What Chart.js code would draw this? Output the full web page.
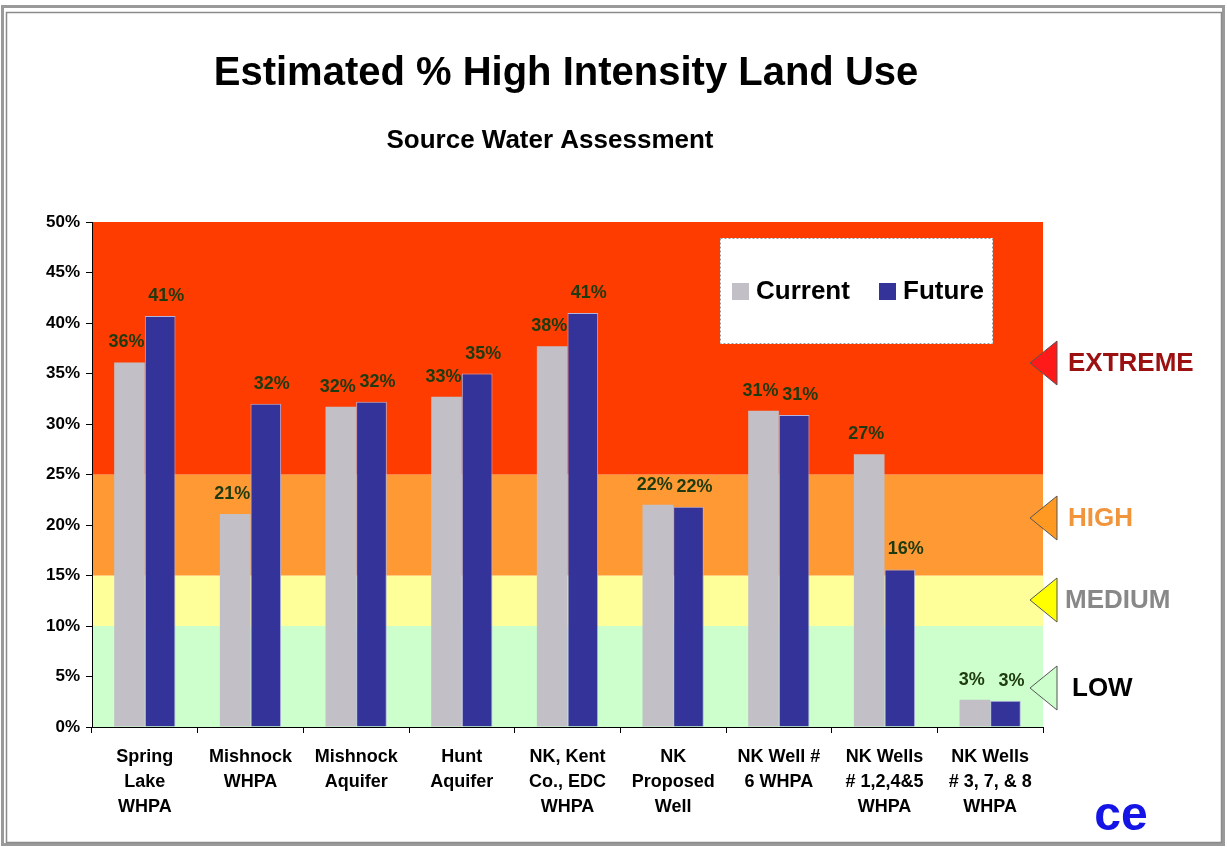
<!DOCTYPE html>
<html>
<head>
<meta charset="utf-8">
<script src="https://cdn.jsdelivr.net/npm/chart.js@4/dist/chart.umd.min.js"></script>
<style>
  html, body { margin: 0; padding: 0; background: #fff; }
  canvas { display: block; }
</style>
</head>
<body>
<canvas id="c" width="1227" height="848"></canvas>
<script>
// ---- Data ----
const categories = [
  ["Spring", "Lake", "WHPA"],
  ["Mishnock", "WHPA"],
  ["Mishnock", "Aquifer"],
  ["Hunt", "Aquifer"],
  ["NK, Kent", "Co., EDC", "WHPA"],
  ["NK", "Proposed", "Well"],
  ["NK Well #", "6 WHPA"],
  ["NK Wells", "# 1,2,4&5", "WHPA"],
  ["NK Wells", "# 3, 7, & 8", "WHPA"]
];
const currentValues = [36.1, 21.1, 31.7, 32.7, 37.7, 22.0, 31.3, 27.0, 2.7];
const futureValues  = [40.7, 32.0, 32.2, 35.0, 41.0, 21.8, 30.9, 15.6, 2.6];
const seriesNames = ["Current", "Future"];
const yTicks = [0, 5, 10, 15, 20, 25, 30, 35, 40, 45, 50];
const bandLimits = [0, 10, 15, 25, 50];
const bandNames = ["LOW", "MEDIUM", "HIGH", "EXTREME"];

// ---- Styles ----
const FONT = "'Liberation Sans', Arial, sans-serif";
const bandFill = ["#ccffcc", "#ffff99", "#ff9933", "#ff3c00"];
const markerFill = ["#ccffcc", "#ffff00", "#ff9922", "#ff1a1a"];
const markerText = ["#000000", "#888888", "#f0953c", "#9b1010"];
const markerY = [688, 600, 518, 363];   // pixel rows of zone markers
const markerTextX = [1072, 1065, 1068, 1068];
const labelShift = [-3, 6];             // horizontal nudge of value labels per series

const decorPlugin = {
  id: 'decor',
  beforeDraw(chart) {
    const ctx = chart.ctx;
    const ca = chart.chartArea;
    const y = chart.scales.y;
    ctx.save();
    ctx.fillStyle = '#fff';
    ctx.fillRect(0, 0, chart.width, chart.height);
    // frame
    ctx.strokeStyle = '#9a9a9a';
    ctx.lineWidth = 3;
    ctx.strokeRect(2.5, 6.5, 1221, 838);
    ctx.strokeStyle = '#8a8a8a';
    ctx.lineWidth = 1.5;
    ctx.strokeRect(6.5, 12.5, 1215, 830);
    // bands
    for (let i = 0; i < bandFill.length; i++) {
      const yTop = y.getPixelForValue(bandLimits[i + 1]);
      const yBot = y.getPixelForValue(bandLimits[i]);
      ctx.fillStyle = bandFill[i];
      ctx.fillRect(ca.left, yTop, ca.right - ca.left, yBot - yTop);
    }
    // titles
    ctx.fillStyle = '#000';
    ctx.textAlign = 'center';
    ctx.textBaseline = 'middle';
    ctx.font = "bold 40px " + FONT;
    ctx.fillText("Estimated % High Intensity Land Use", 566, 74);
    ctx.font = "bold 26px " + FONT;
    ctx.fillText("Source Water Assessment", 550, 141);
    ctx.restore();
  },
  afterDatasetsDraw(chart) {
    const ctx = chart.ctx;
    ctx.save();
    // data labels
    ctx.font = "bold 18px " + FONT;
    ctx.fillStyle = '#1e3b10';
    ctx.textAlign = 'center';
    ctx.textBaseline = 'alphabetic';
    chart.data.datasets.forEach((ds, di) => {
      chart.getDatasetMeta(di).data.forEach((bar, i) => {
        ctx.fillText(Math.round(ds.data[i]) + '%', bar.x + labelShift[di], bar.y - 15);
      });
    });
    // legend box
    ctx.fillStyle = '#fff';
    ctx.fillRect(720, 238, 273, 106);
    ctx.setLineDash([2, 2]);
    ctx.strokeStyle = '#999';
    ctx.lineWidth = 1;
    ctx.strokeRect(720.5, 238.5, 272, 105);
    ctx.setLineDash([]);
    ctx.font = "bold 26px " + FONT;
    ctx.textAlign = 'left';
    ctx.textBaseline = 'middle';
    const lx = [732, 879];
    chart.data.datasets.forEach((ds, di) => {
      ctx.fillStyle = ds.backgroundColor;
      ctx.fillRect(lx[di], 283, 17, 17);
      ctx.fillStyle = '#000';
      ctx.fillText(ds.label, lx[di] + 24, 292);
    });
    // zone markers
    const ca = chart.chartArea;
    ctx.font = "bold 26px " + FONT;
    for (let i = 0; i < bandNames.length; i++) {
      const my = markerY[i];
      const tip = ca.right - 13;
      ctx.beginPath();
      ctx.moveTo(tip, my);
      ctx.lineTo(tip + 27, my - 22);
      ctx.lineTo(tip + 27, my + 22);
      ctx.closePath();
      ctx.fillStyle = markerFill[i];
      ctx.fill();
      ctx.strokeStyle = '#555';
      ctx.lineWidth = 1;
      ctx.stroke();
      ctx.fillStyle = markerText[i];
      ctx.fillText(bandNames[i], markerTextX[i], my + 1);
    }
    // logo
    ctx.font = "bold 48px " + FONT;
    ctx.fillStyle = '#1414e6';
    ctx.textAlign = 'center';
    ctx.fillText("ce", 1121, 817);
    ctx.restore();
  }
};

new Chart(document.getElementById('c'), {
  type: 'bar',
  data: {
    labels: categories,
    datasets: [
      { label: seriesNames[0], data: currentValues, backgroundColor: '#c2c0c6', borderWidth: 0 },
      { label: seriesNames[1], data: futureValues, backgroundColor: '#333399', borderColor: '#b4b4dc', borderWidth: 1 }
    ]
  },
  options: {
    responsive: false,
    animation: false,
    devicePixelRatio: 1,
    categoryPercentage: 0.58,
    barPercentage: 1.0,
    layout: { padding: { left: 0, top: 222, right: 184, bottom: 0 } },
    plugins: { legend: { display: false }, title: { display: false }, tooltip: { enabled: false } },
    scales: {
      x: {
        afterFit(s) { s.height = 121; },
        grid: { drawOnChartArea: false, tickLength: 6, color: '#000', offset: true },
        border: { color: '#000', width: 1 },
        ticks: {
          color: '#000', autoSkip: false, maxRotation: 0, padding: 11,
          font: { family: FONT, size: 18, weight: 'bold', lineHeight: 1.4 }
        }
      },
      y: {
        min: 0, max: 50,
        afterFit(s) { s.width = 92; },
        afterBuildTicks(s) { s.ticks = yTicks.map(v => ({ value: v })); },
        grid: { drawOnChartArea: false, tickLength: 6, color: '#000' },
        border: { color: '#000', width: 1 },
        ticks: {
          color: '#000', padding: 6,
          font: { family: FONT, size: 17, weight: 'bold' },
          callback: v => v + '%'
        }
      }
    }
  },
  plugins: [decorPlugin]
});
</script>
</body>
</html>
